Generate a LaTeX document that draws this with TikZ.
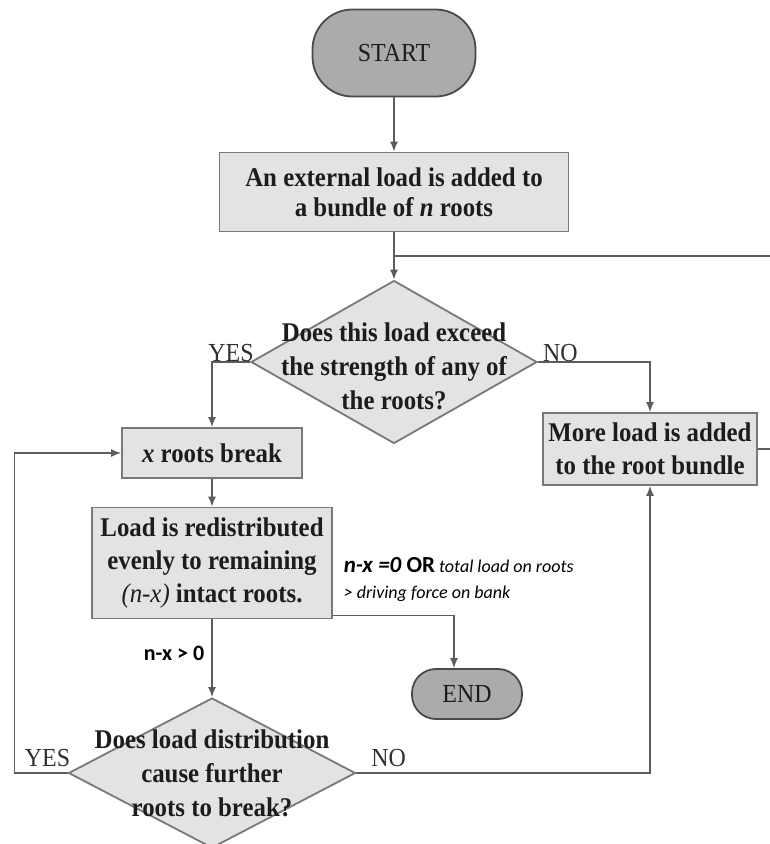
\documentclass[tikz,border=0pt]{standalone}
\usepackage{fontspec}
\setmainfont{Liberation Serif}[FakeStretch=0.92]
\newfontfamily\calibri{Carlito}
\usepackage{xcolor}
\usetikzlibrary{shapes.geometric,arrows.meta,calc,positioning}
\definecolor{boxgray}{HTML}{E3E3E3}
\definecolor{termgray}{HTML}{ABABAB}
\definecolor{boxline}{HTML}{787878}
\definecolor{termline}{HTML}{4A4A4A}
\definecolor{linegray}{HTML}{5C5C5C}
\definecolor{inkgray}{HTML}{1C1C1C}
\definecolor{labelgray}{HTML}{303030}
\newcommand{\decisiontext}[2][0pt]{\smash{\makebox[0pt]{\raisebox{#1}{\begin{tabular}{@{}c@{}}#2\end{tabular}}}}}

\begin{document}
\begin{tikzpicture}[x=1pt,y=-1pt,>={Latex[length=10pt,width=8pt]},line width=1.5pt,
    process/.style={draw=boxline,fill=boxgray,text=inkgray,align=center,inner sep=0pt,line width=1.8pt,font=\fontsize{27}{33}\selectfont\bfseries},
    terminal/.style={draw=termline,fill=termgray,text=inkgray,inner sep=0pt,line width=1.8pt,font=\fontsize{26}{30}\selectfont},
    decision/.style={diamond,draw=boxline,fill=boxgray,text=inkgray,inner sep=0pt,line width=1.8pt,font=\fontsize{27}{34}\selectfont\bfseries},
    answer/.style={text=labelgray,inner sep=0pt,font=\fontsize{26}{26}\selectfont},
    cond/.style={text=black,inner sep=0pt,align=left,font=\calibri\itshape\fontsize{18}{26}\selectfont},
    gtlabel/.style={text=black,inner sep=0pt,font=\calibri\bfseries\fontsize{22}{22}\selectfont},
    flow/.style={->,draw=linegray}]

    \useasboundingbox (0,0) rectangle (770,844);

    \node[terminal, minimum width=163pt, minimum height=87pt, rounded corners=40pt] (start) at (394,53) {START};
    \node[process, minimum width=349pt, minimum height=79pt, font=\fontsize{27}{30}\selectfont\bfseries] (b1) at (394,192) {An external load is added to\\a bundle of \textit{n} roots};
    \coordinate (merge) at (394,256);
    \node[decision, minimum width=286pt, minimum height=163pt] (d1) at (394,362) {\decisiontext[-13pt]{Does this load exceed\\the strength of any of\\the roots?}};
    \node[process, minimum width=180pt, minimum height=50pt] (b2) at (212,453) {\textit{x} roots break};
    \node[process, minimum width=214pt, minimum height=72pt] (b3) at (650,449) {More load is added\\to the root bundle};
    \node[process, minimum width=240pt, minimum height=111pt] (b4) at (212,563) {Load is redistributed\\evenly to remaining\\{\mdseries\itshape (n-x)} intact roots.};
    \node[terminal, minimum width=110pt, minimum height=50pt, rounded corners=24pt] (end) at (467,694) {END};
    \node[decision, minimum width=287pt, minimum height=150pt] (d2) at (212,773) {\decisiontext[-9pt]{Does load distribution\\cause further\\roots to break?}};
    \node[cond, anchor=north west] (stop) at (343,557) {{\fontsize{23}{26}\selectfont\bfseries n-x =0 \upshape OR} total load on roots\\> driving force on bank};

    \draw[flow] (start) -- (b1);
    \draw[flow] (b1) -- (d1);
    \draw[draw=linegray] (b3.east) -- ++(40,0) |- (merge);
    \draw[flow] (d1.west) -| node[answer, anchor=south, pos=0.25] (yes1) {YES} (b2.north);
    \draw[flow] (d1.east) -| node[answer, anchor=south, pos=0.1] (no1) {NO} (b3.north);
    \draw[flow] (b2) -- (b4);
    \draw[flow] ([yshift=4pt]b4.south east) -| ([xshift=-13pt]end.north);
    \draw[flow] (b4) -- node[gtlabel, anchor=east, pos=0.44, xshift=-7pt] (gt) {n-x > 0} (d2);
    \draw[flow] (d2.west) -- node[answer, anchor=south, pos=0.38, yshift=6pt] (yes2) {YES} ++(-53,0) |- (b2.west);
    \draw[flow] (d2.east) -| node[answer, anchor=south, pos=0.055, yshift=6pt] (no2) {NO} (b3.south);
\end{tikzpicture}
\end{document}
